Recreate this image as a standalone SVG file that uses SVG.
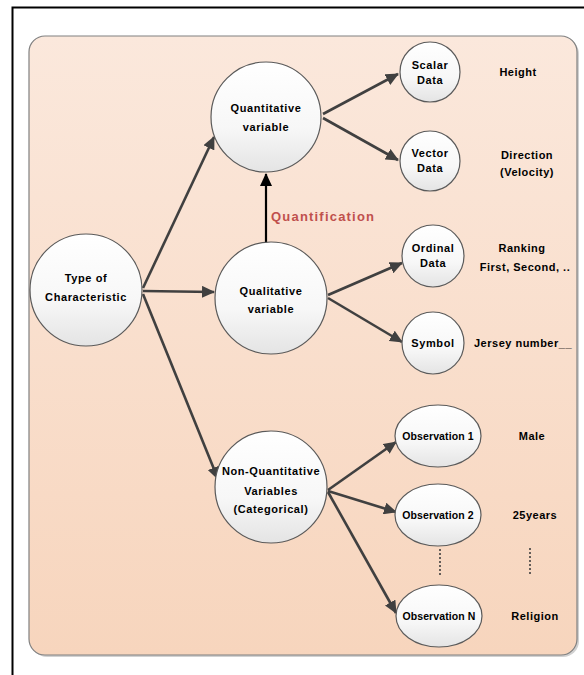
<svg xmlns="http://www.w3.org/2000/svg" width="584" height="675" viewBox="0 0 584 675">
  <defs>
    <linearGradient id="panelFill" x1="0" y1="0" x2="0" y2="1">
      <stop offset="0" stop-color="#fbe8dc"/>
      <stop offset="1" stop-color="#f7d5bd"/>
    </linearGradient>
    <linearGradient id="nodeFill" x1="0" y1="0" x2="0" y2="1">
      <stop offset="0" stop-color="#ffffff"/>
      <stop offset="0.6" stop-color="#f7f7f7"/>
      <stop offset="1" stop-color="#e4e4e4"/>
    </linearGradient>
    <marker id="arrow" markerUnits="userSpaceOnUse" markerWidth="14" markerHeight="12" refX="12" refY="6" orient="auto">
      <path d="M0,0 L13,6 L0,12 Z" fill="#404040"/>
    </marker>
    <marker id="arrowBlack" markerUnits="userSpaceOnUse" markerWidth="14" markerHeight="12" refX="12" refY="6" orient="auto">
      <path d="M0,0 L13,6 L0,12 Z" fill="#000000"/>
    </marker>
    <style>
      .node { fill: url(#nodeFill); stroke: #5a5a5a; stroke-width: 1.2; }
      .lbl { font-family: "Liberation Sans", Arial, sans-serif; font-size: 11px; font-weight: bold; fill: #000; text-anchor: middle; letter-spacing: 0.6px; }
      .obs { font-family: "Liberation Sans", Arial, sans-serif; font-size: 10.5px; font-weight: bold; fill: #000; text-anchor: middle; letter-spacing: 0.1px; }
      .side { font-family: "Liberation Sans", Arial, sans-serif; font-size: 11px; font-weight: bold; fill: #000; text-anchor: middle; letter-spacing: 0.5px; }
      .edge { stroke: #404040; stroke-width: 2.6; fill: none; marker-end: url(#arrow); }
      .dots { stroke: #404040; stroke-width: 1.6; stroke-dasharray: 2 2; fill: none; }
    </style>
  </defs>

  <!-- outer frame -->
  <rect x="12.5" y="7.5" width="600" height="700" fill="#ffffff" stroke="#000000" stroke-width="2"/>

  <!-- background panel -->
  <rect x="31" y="38" width="548" height="619" rx="16" fill="#9a9a9a" opacity="0.45"/>
  <rect x="29" y="36" width="548" height="619" rx="16" fill="url(#panelFill)" stroke="#808080" stroke-width="1.2"/>

  <!-- connectors -->
  <g id="connectors">
    <line class="edge" x1="143" y1="288" x2="214" y2="137"/>
    <line class="edge" x1="143" y1="291" x2="214" y2="292"/>
    <line class="edge" x1="143" y1="294" x2="218" y2="479"/>
    <line class="edge" x1="323" y1="114" x2="398" y2="74"/>
    <line class="edge" x1="323" y1="118" x2="398" y2="160"/>
    <line class="edge" x1="328" y1="295" x2="402" y2="263"/>
    <line class="edge" x1="328" y1="298" x2="402" y2="342"/>
    <line class="edge" x1="328" y1="490" x2="396" y2="442"/>
    <line class="edge" x1="328" y1="491" x2="396" y2="512"/>
    <line class="edge" x1="328" y1="492" x2="396" y2="613"/>
    <line x1="266" y1="243" x2="266" y2="174" stroke="#000" stroke-width="2.2" marker-end="url(#arrowBlack)"/>
    <text x="271" y="221" font-family="Liberation Sans, Arial, sans-serif" font-size="13" font-weight="bold" fill="#c0504d" letter-spacing="1.2">Quantification</text>
    <line class="dots" x1="440" y1="549" x2="440" y2="577"/>
    <line class="dots" x1="530" y1="548" x2="530" y2="575"/>
  </g>

  <!-- root -->
  <g id="node-root">
    <circle class="node" cx="86" cy="290" r="56"/>
    <text class="lbl" x="86" y="282">Type of</text>
    <text class="lbl" x="86" y="301">Characteristic</text>
  </g>

  <g id="node-quantitative">
    <circle class="node" cx="266" cy="117" r="55"/>
    <text class="lbl" x="266" y="112">Quantitative</text>
    <text class="lbl" x="266" y="131">variable</text>
  </g>

  <g id="node-qualitative">
    <circle class="node" cx="271" cy="298" r="56"/>
    <text class="lbl" x="271" y="295">Qualitative</text>
    <text class="lbl" x="271" y="313">variable</text>
  </g>

  <g id="node-categorical">
    <circle class="node" cx="271" cy="487" r="56"/>
    <text class="lbl" x="271" y="475">Non-Quantitative</text>
    <text class="lbl" x="271" y="495">Variables</text>
    <text class="lbl" x="271" y="513">(Categorical)</text>
  </g>

  <!-- leaves of the quantitative branch -->
  <g id="node-scalar">
    <circle class="node" cx="430" cy="72" r="30"/>
    <text class="lbl" x="430" y="69">Scalar</text>
    <text class="lbl" x="430" y="84">Data</text>
    <text class="side" x="518" y="76">Height</text>
  </g>

  <g id="node-vector">
    <circle class="node" cx="430" cy="161" r="30"/>
    <text class="lbl" x="430" y="157">Vector</text>
    <text class="lbl" x="430" y="172">Data</text>
    <text class="side" x="527" y="159">Direction</text>
    <text class="side" x="527" y="176">(Velocity)</text>
  </g>

  <!-- leaves of the qualitative branch -->
  <g id="node-ordinal">
    <circle class="node" cx="433" cy="256" r="31"/>
    <text class="lbl" x="433" y="252">Ordinal</text>
    <text class="lbl" x="433" y="267">Data</text>
    <text class="side" x="522" y="252">Ranking</text>
    <text class="side" x="525" y="271">First, Second, ..</text>
  </g>

  <g id="node-symbol">
    <circle class="node" cx="433" cy="343" r="31"/>
    <text class="lbl" x="433" y="347">Symbol</text>
    <text class="side" x="523" y="347">Jersey number__</text>
  </g>

  <!-- observations of the categorical branch -->
  <g id="node-obs1">
    <ellipse class="node" cx="438" cy="436" rx="43" ry="31"/>
    <text class="obs" x="438" y="440">Observation 1</text>
    <text class="side" x="532" y="440">Male</text>
  </g>

  <g id="node-obs2">
    <ellipse class="node" cx="438" cy="515" rx="43" ry="31"/>
    <text class="obs" x="438" y="519">Observation 2</text>
    <text class="side" x="535" y="519">25years</text>
  </g>

  <g id="node-obsn">
    <ellipse class="node" cx="439" cy="616" rx="43" ry="31"/>
    <text class="obs" x="439" y="620">Observation N</text>
    <text class="side" x="535" y="620">Religion</text>
  </g>
</svg>
